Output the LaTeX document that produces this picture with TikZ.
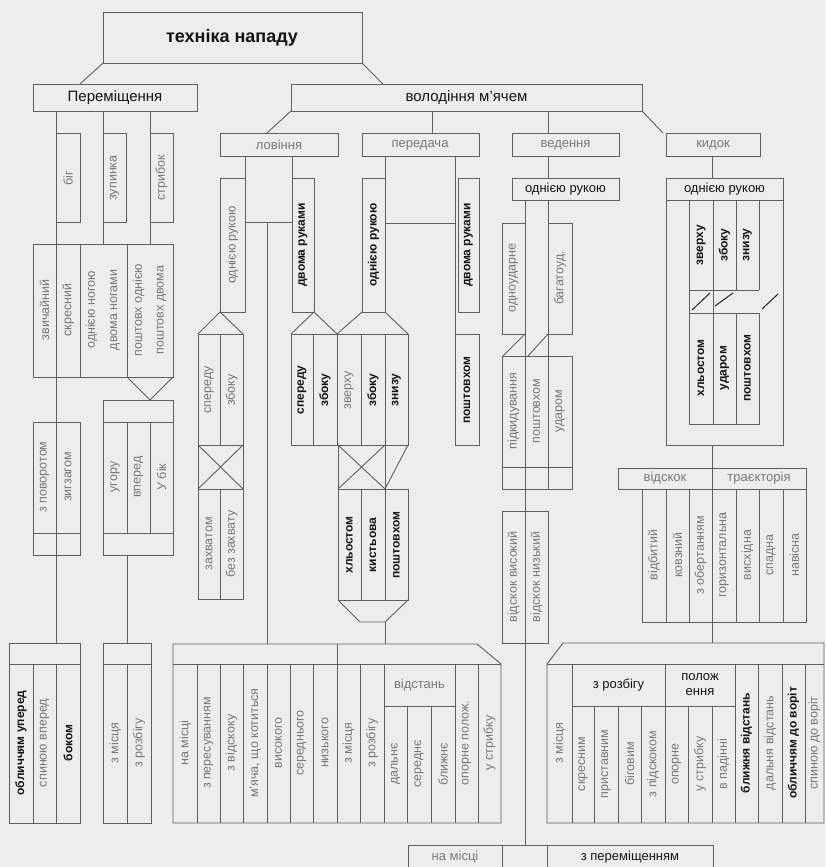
\documentclass[tikz,border=0pt]{standalone}
\usepackage{fontspec}
\setmainfont{Liberation Sans}
\usetikzlibrary{fit}
\definecolor{bg}{RGB}{237,237,237}
\definecolor{lc}{RGB}{95,95,95}
\definecolor{tg}{RGB}{120,120,120}
\definecolor{td}{RGB}{20,20,20}
\newcounter{labc}
\newcommand{\lab}[4]{\stepcounter{labc}\node[#1] (lab\arabic{labc}) at (#2,#3) {#4};}
\newcommand{\bx}[5]{\node[box,fit={(#2,#3)(#4,#5)}] (#1) {};}
\begin{document}
\begin{tikzpicture}[x=1pt,y=-1pt,
  box/.style={draw=lc,line width=0.9pt,inner sep=0pt,outer sep=0pt},
  ln/.style={draw=lc,line width=0.9pt},
  dk/.style={draw=black!85,line width=1pt},
  vt/.style={rotate=90,inner sep=0pt,text=tg,font=\fontsize{12.5}{13}\selectfont},
  vd/.style={vt,text=td,font=\bfseries\fontsize{12}{13}\selectfont},
  ht/.style={inner sep=0pt,text=tg,font=\fontsize{13}{14}\selectfont},
  hd/.style={ht,text=td}]
\fill[bg] (0,0) rectangle (825,867);
\useasboundingbox (0,0) rectangle (825,867);

% ---------- top ----------
\bx{T}{103}{12}{362}{63}
\node[inner sep=0pt,text=td,font=\bfseries\fontsize{18}{18}\selectfont] (Tt) at (232,38) {техніка нападу};
\bx{P}{33}{84}{197}{111}
\node[hd,font=\fontsize{15}{15}\selectfont] (Pt) at (P) {Переміщення};
\bx{V}{291}{84}{642}{111}
\node[hd,font=\fontsize{15}{15}\selectfont] (Vt) at (V) {володіння м’ячем};
\draw[ln] (T.south west) -- (80,84);
\draw[ln] (T.south east) -- (383,84);

% ---------- Переміщення ----------
\bx{big}{56}{133}{80}{222}   \lab{vt}{68}{178}{біг}
\bx{zup}{103}{133}{126}{222} \lab{vt}{114.5}{178}{зупинка}
\bx{str}{150}{133}{173}{222} \lab{vt}{161.5}{178}{стрибок}
\draw[ln] (P.south -| big.west) -- (56,643);
\draw[ln] (P.south -| zup.west) -- (103,244);
\draw[ln] (P.south -| str.west) -- (150,244);
\bx{ga}{33}{244}{173}{377}
\foreach \x in {80,127} \draw[ln] (\x,244) -- (\x,377);
\lab{vt}{44.5}{310}{звичайний}
\lab{vt}{68}{310}{скресний}
\lab{vt}{91.5}{310}{однією ногою}
\lab{vt}{115}{310}{двома ногами}
\lab{vt}{138.5}{310}{поштовх однією}
\lab{vt}{161.5}{310}{поштовх двома}
\draw[ln] (127,377) -- (150,400) -- (173,377);
\bx{gc}{103}{400}{173}{555}
\draw[ln] (103,422) -- (173,422);
\draw[ln] (103,533) -- (173,533);
\foreach \x in {127,150} \draw[ln] (\x,422) -- (\x,533);
\lab{vt}{115}{477}{угору}
\lab{vt}{138.5}{477}{вперед}
\lab{vt}{161.5}{477}{У бік}
\bx{gb}{33}{422}{80}{555}
\draw[ln] (33,533) -- (80,533);
\lab{vt}{44.5}{477}{з поворотом}
\lab{vt}{68}{477}{зигзагом}
\draw[ln] (127,555) -- (127,643);
\bx{gd}{9}{643}{80}{823}
\draw[ln] (9,664) -- (80,664);
\foreach \x in {33,56} \draw[ln] (\x,664) -- (\x,823);
\lab{vd}{21}{743}{обличчям уперед}
\lab{vt}{44.5}{743}{спиною вперед}
\lab{vd}{68}{743}{боком}
\bx{ge}{103}{643}{151}{823}
\draw[ln] (103,664) -- (151,664);
\draw[ln] (127,664) -- (127,823);
\lab{vt}{115}{743}{з місця}
\lab{vt}{139}{743}{з розбігу}

% ---------- ловіння ----------
\bx{lov}{220}{133}{338}{156} \lab{ht}{279}{145}{ловіння}
\draw[ln] (V.south west) -- (267,133);
\bx{la}{220}{178}{245}{312} \lab{vt}{232.5}{245}{однією рукою}
\bx{lb}{292}{178}{314}{312} \lab{vd}{303}{245}{двома руками}
\draw[ln] (lov.south -| la.east) -- (la.north east);
\draw[ln] (lov.south -| lb.west) -- (lb.north west);
\draw[ln] (245,222) -- (292,222);
\draw[ln] (267,222) -- (267,644);
\draw[ln] (198,334) -- (la.south west) -- (243,334);
\bx{lc}{198}{334}{243}{599}
\draw[ln] (198,445) -- (243,445);
\draw[ln] (198,489) -- (243,489);
\draw[ln] (220,334) -- (220,445);
\draw[ln] (220,489) -- (220,599);
\draw[ln] (198,445) -- (243,489);
\draw[ln] (243,445) -- (198,489);
\lab{vt}{209}{390}{спереду}
\lab{vt}{231.5}{390}{збоку}
\lab{vt}{209}{544}{захватом}
\lab{vt}{231.5}{544}{без захвату}
\draw[ln] (291,334) -- (lb.south east) -- (337,334);

% ---------- передача ----------
\bx{per}{362}{133}{479}{156} \lab{ht}{420}{145}{передача}
\draw[ln] (432,111) -- (432,133);
\bx{pa}{362}{178}{385}{312} \lab{vd}{373.5}{245}{однією рукою}
\bx{pb}{458}{178}{479}{312} \lab{vd}{468.5}{245}{двома руками}
\draw[ln] (per.south -| pa.east) -- (pa.north east);
\draw[ln] (455,156) -- (455,334);
\draw[ln] (385,223) -- (455,223);
\draw[ln] (337,334) -- (pa.south west);
\draw[ln] (pa.south east) -- (408,334);
\bx{pr}{291}{334}{408}{445}
\foreach \x in {313,337,361,385} \draw[ln] (\x,334) -- (\x,445);
\lab{vd}{302}{390}{спереду}
\lab{vd}{325}{390}{збоку}
\lab{vt}{349}{390}{зверху}
\lab{vd}{373}{390}{збоку}
\lab{vd}{396.5}{390}{знизу}
\draw[ln] (338,445) rectangle (385,489);
\draw[ln] (338,445) -- (385,489);
\draw[ln] (385,445) -- (338,489);
\draw[ln] (408,445) -- (385,489);
\bx{pk}{338}{489}{408}{600}
\foreach \x in {361,385} \draw[ln] (\x,489) -- (\x,600);
\lab{vd}{349.5}{545}{хльостом}
\lab{vd}{373}{545}{кистьова}
\lab{vd}{396.5}{545}{поштовхом}
\draw[ln] (338,600) -- (360,622) -- (385,622) -- (408,600);
\draw[ln] (385,622) -- (385,644);
\bx{pc}{455}{334}{479}{445} \lab{vd}{467}{390}{поштовхом}

% ---------- ведення ----------
\bx{ved}{512}{133}{619}{156} \lab{ht}{565.5}{145}{ведення}
\draw[ln] (548,111) -- (ved.north -| 548,0);
\bx{va}{512}{178}{619}{200} \lab{hd}{565.5}{189}{однією рукою}
\draw[ln] (ved.south -| 548,0) -- (va.north -| 548,0);
\draw[ln] (525,200) -- (525,845);
\draw[ln] (548,200) -- (548,489);
\bx{vb}{502}{223}{525}{334} \lab{vt}{513.5}{278}{одноударне}
\bx{vc}{548}{223}{572}{334} \lab{vt}{560}{278}{багатоуд.}
\draw[ln] (vb.south east) -- (503,356);
\draw[ln] (vc.south west) -- (528,356);
\bx{vd}{502}{356}{572}{489}
\draw[ln] (502,467) -- (572,467);
\lab{vt}{513.5}{411}{підкидування}
\lab{vt}{536.5}{411}{поштовхом}
\lab{vt}{560}{411}{ударом}
\bx{ve}{502}{511}{548}{643}
\lab{vt}{513.5}{577}{відскок високий}
\lab{vt}{536.5}{577}{відскок низький}

% ---------- кидок ----------
\bx{kid}{666}{133}{760}{156} \lab{ht}{713}{145}{кидок}
\draw[ln] (V.south east) -- (663,133);
\draw[ln] (712,156) -- (712,178);
\bx{ka}{666}{178}{783}{445}
\draw[ln] (666,200) -- (783,200);
\lab{hd}{724.5}{189}{однією рукою}
\foreach \x in {689,713,736,759} \draw[ln] (\x,200) -- (\x,290);
\draw[ln] (689,290) -- (759,290);
\draw[ln] (689,290) -- (689,313);
\draw[ln] (713,290) -- (713,313);
\draw[dk] (692,310) -- (710,293);
\draw[dk] (715,306) -- (733,293);
\draw[dk] (762,309) -- (778,294);
\lab{vd}{701}{245}{зверху}
\lab{vd}{724.5}{245}{збоку}
\lab{vd}{747.5}{245}{знизу}
\bx{kb}{689}{313}{759}{424}
\foreach \x in {713,736} \draw[ln] (\x,313) -- (\x,424);
\lab{vd}{701}{368}{хльостом}
\lab{vd}{724.5}{368}{ударом}
\lab{vd}{747.5}{368}{поштовхом}
\draw[ln] (ka.south -| 712,0) -- (712,468);
\bx{kc}{618}{468}{806}{489}
\draw[ln] (712,468) -- (712,489);
\lab{ht}{665}{478}{відскок}
\lab{ht}{759}{478}{траєкторія}
\bx{kd}{642}{489}{806}{622}
\foreach \x in {666,689,712,736,759,783} \draw[ln] (\x,489) -- (\x,622);
\lab{vt}{654}{555}{відбитий}
\lab{vt}{677.5}{555}{ковзний}
\lab{vt}{700.5}{555}{з обертанням}
\lab{vt}{724}{555}{горизонтальна}
\lab{vt}{747.5}{555}{висхідна}
\lab{vt}{771}{555}{спадна}
\lab{vt}{794.5}{555}{навісна}
\draw[ln] (kd.south -| 712,0) -- (712,643);

% ---------- bottom middle group ----------
\draw[ln] (173,644) -- (477,644) -- (501,664) -- (501,823) -- (173,823) -- cycle;
\draw[ln] (173,664) -- (501,664);
\draw[ln] (337,644) -- (337,664);
\foreach \x in {197,220,243,267,290,313,337,360,384,455,478} \draw[ln] (\x,664) -- (\x,823);
\draw[ln] (384,706) -- (455,706);
\foreach \x in {407,431} \draw[ln] (\x,706) -- (\x,823);
\lab{vt}{185}{743}{на місці}
\lab{vt}{208.5}{743}{з пересуванням}
\lab{vt}{231.5}{743}{з відскоку}
\lab{vt}{255}{743}{м’яча, що котиться}
\lab{vt}{278.5}{743}{високого}
\lab{vt}{301.5}{743}{середнього}
\lab{vt}{325}{743}{низького}
\lab{vt}{348.5}{743}{з місця}
\lab{vt}{372}{743}{з розбігу}
\lab{ht}{419.5}{685}{відстань}
\lab{vt}{395.5}{764}{дальнє}
\lab{vt}{419}{764}{середнє}
\lab{vt}{443}{764}{ближнє}
\lab{vt}{466.5}{743}{опорне полож.}
\lab{vt}{489.5}{743}{у стрибку}

% ---------- bottom right group ----------
\draw[ln] (547,664) -- (563,643) -- (824,643) -- (824,823) -- (547,823) -- cycle;
\draw[ln] (547,664) -- (824,664);
\draw[ln] (572,706) -- (735,706);
\foreach \x in {572,665,735,758,782,805} \draw[ln] (\x,664) -- (\x,823);
\foreach \x in {594,618,641,688,712} \draw[ln] (\x,706) -- (\x,823);
\lab{vt}{559.5}{743}{з місця}
\lab{hd}{618.5}{685}{з розбігу}
\lab{vt}{583}{764}{скресним}
\lab{vt}{606}{764}{приставним}
\lab{vt}{629.5}{764}{біговим}
\lab{vt}{653}{764}{з підскоком}
\node[hd,align=center] (lab-pol) at (700,685) {полож\\[1pt]ення};
\lab{vt}{676.5}{764}{опорне}
\lab{vt}{700}{764}{у стрибку}
\lab{vt}{723.5}{764}{в падінні}
\lab{vd}{746.5}{743}{ближня відстань}
\lab{vt}{770}{743}{дальня відстань}
\lab{vd}{793.5}{743}{обличчям до воріт}
\lab{vt}{814.5}{743}{спиною до воріт}

% ---------- bottom boxes ----------
\bx{nm}{408}{845}{502}{872} \lab{ht}{455}{857}{на місці}
\bx{mid}{502}{845}{547}{872}
\bx{zp}{547}{845}{713}{872} \lab{hd}{630}{857}{з переміщенням}
\end{tikzpicture}
\end{document}
